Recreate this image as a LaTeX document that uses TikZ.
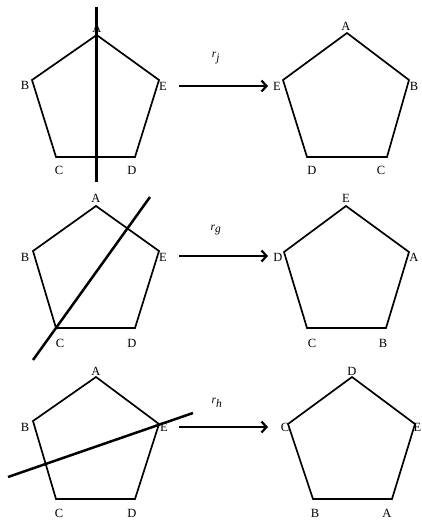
\documentclass[tikz,border=0pt]{standalone}
\usepackage{fontspec}
\setmainfont{Liberation Serif}
\usetikzlibrary{arrows.meta}
\begin{document}
\begin{tikzpicture}[x=1pt,y=-1pt,
  poly/.style={line width=1.7pt, line join=miter},
  cutline/.style={line width=2.5pt},
  maparrow/.style={line width=2.5pt, -{Straight Barb[length=5pt,width=11pt,line width=2.2pt]}},
  vlabel/.style={font=\fontsize{12.5}{13}\selectfont, inner sep=0pt},
  rlabel/.style={font=\fontsize{11.5}{12}\selectfont, inner sep=0pt}]
\useasboundingbox (0,0) rectangle (422,523);

% ---------- Row 1 ----------
\coordinate (p1A) at (96.7,35); \coordinate (p1B) at (32,80); \coordinate (p1C) at (56,157);
\coordinate (p1D) at (135,157); \coordinate (p1E) at (159,80);
\draw[poly] (p1A) -- (p1B) -- (p1C) -- (p1D) -- (p1E) -- cycle;
\coordinate (c1s) at (96.7,7); \coordinate (c1e) at (96.7,182);
\draw[cutline] (c1s) -- (c1e);
\node[vlabel] (l1A) at (97,28) {A};
\node[vlabel] (l1B) at (25,85) {B};
\node[vlabel] (l1E) at (163,86) {E};
\node[vlabel] (l1C) at (59,170) {C};
\node[vlabel] (l1D) at (132,170) {D};

\coordinate (a1s) at (179,86); \coordinate (a1e) at (268,86);
\draw[maparrow] (a1s) -- (a1e);
\node[rlabel] (r1) at (216,58) {$\textit{r}_{\textit{j}}$};

\coordinate (q1A) at (347,33); \coordinate (q1E) at (283,80); \coordinate (q1D) at (307,157);
\coordinate (q1C) at (387,157); \coordinate (q1B) at (409,80);
\draw[poly] (q1A) -- (q1E) -- (q1D) -- (q1C) -- (q1B) -- cycle;
\node[vlabel] (m1A) at (346,26) {A};
\node[vlabel] (m1E) at (277,86) {E};
\node[vlabel] (m1B) at (414,86) {B};
\node[vlabel] (m1D) at (312,170) {D};
\node[vlabel] (m1C) at (381,170) {C};

% ---------- Row 2 ----------
\coordinate (p2A) at (96,206); \coordinate (p2B) at (33,251); \coordinate (p2C) at (56,328);
\coordinate (p2D) at (135,328); \coordinate (p2E) at (159,251);
\draw[poly] (p2A) -- (p2B) -- (p2C) -- (p2D) -- (p2E) -- cycle;
\coordinate (c2s) at (33,360); \coordinate (c2e) at (150,197);
\draw[cutline] (c2s) -- (c2e);
\node[vlabel] (l2A) at (96,198) {A};
\node[vlabel] (l2B) at (25,257) {B};
\node[vlabel] (l2E) at (163,257) {E};
\node[vlabel] (l2C) at (60,343) {C};
\node[vlabel] (l2D) at (132,343) {D};

\coordinate (a2s) at (179,256); \coordinate (a2e) at (268,256);
\draw[maparrow] (a2s) -- (a2e);
\node[rlabel] (r2) at (216,230) {$\textit{r}_{\textit{g}}$};

\coordinate (q2E) at (346,206); \coordinate (q2D) at (284,252); \coordinate (q2C) at (307,328);
\coordinate (q2B) at (386,328); \coordinate (q2A) at (409,252);
\draw[poly] (q2E) -- (q2D) -- (q2C) -- (q2B) -- (q2A) -- cycle;
\node[vlabel] (m2E) at (346,198) {E};
\node[vlabel] (m2D) at (278,257) {D};
\node[vlabel] (m2A) at (414,257) {A};
\node[vlabel] (m2C) at (312,343) {C};
\node[vlabel] (m2B) at (383,343) {B};

% ---------- Row 3 ----------
\coordinate (p3A) at (96,377); \coordinate (p3B) at (33,421); \coordinate (p3C) at (56,499);
\coordinate (p3D) at (135,499); \coordinate (p3E) at (159,424);
\draw[poly] (p3A) -- (p3B) -- (p3C) -- (p3D) -- (p3E) -- cycle;
\coordinate (c3s) at (8,477); \coordinate (c3e) at (193,413);
\draw[cutline] (c3s) -- (c3e);
\node[vlabel] (l3A) at (96,371) {A};
\node[vlabel] (l3B) at (25,427) {B};
\node[vlabel] (l3E) at (164,427) {E};
\node[vlabel] (l3C) at (59,513) {C};
\node[vlabel] (l3D) at (132,513) {D};

\coordinate (a3s) at (179,427); \coordinate (a3e) at (268,427);
\draw[maparrow] (a3s) -- (a3e);
\node[rlabel] (r3) at (217,403) {$\textit{r}_{\textit{h}}$};

\coordinate (q3D) at (352,377); \coordinate (q3C) at (288,424); \coordinate (q3B) at (313,499);
\coordinate (q3A) at (392,499); \coordinate (q3E) at (415,424);
\draw[poly] (q3D) -- (q3C) -- (q3B) -- (q3A) -- (q3E) -- cycle;
\node[vlabel] (m3D) at (352,371) {D};
\node[vlabel] (m3C) at (285,427) {C};
\node[vlabel, anchor=east] (m3E) at (421.5,427) {E};
\node[vlabel] (m3B) at (315,513) {B};
\node[vlabel] (m3A) at (387,513) {A};
\end{tikzpicture}
\end{document}
